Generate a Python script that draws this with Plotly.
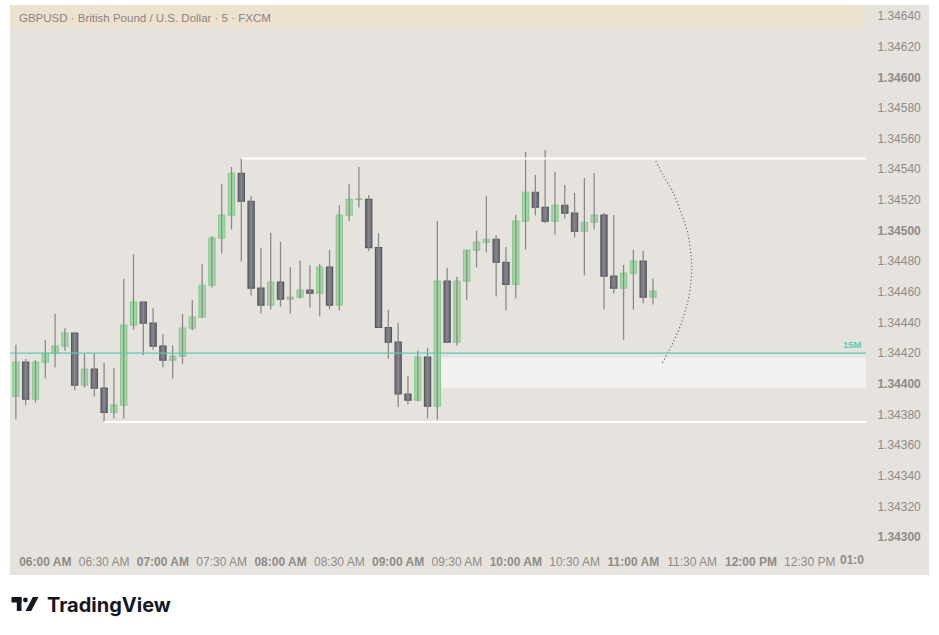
import plotly.graph_objects as go

DAY = "2024-01-15 "

times = ["05:45", "05:50", "05:55", "06:00", "06:05", "06:10", "06:15", "06:20", "06:25", "06:30",
         "06:35", "06:40", "06:45", "06:50", "06:55", "07:00", "07:05", "07:10", "07:15", "07:20",
         "07:25", "07:30", "07:35", "07:40", "07:45", "07:50", "07:55", "08:00", "08:05", "08:10",
         "08:15", "08:20", "08:25", "08:30", "08:35", "08:40", "08:45", "08:50", "08:55", "09:00",
         "09:05", "09:10", "09:15", "09:20", "09:25", "09:30", "09:35", "09:40", "09:45", "09:50",
         "09:55", "10:00", "10:05", "10:10", "10:15", "10:20", "10:25", "10:30", "10:35", "10:40",
         "10:45", "10:50", "10:55", "11:00", "11:05", "11:10"]

opens = [1.343917, 1.344141, 1.343900, 1.344141, 1.344200, 1.344246, 1.344330, 1.343991, 1.344096, 1.343972,
         1.343813, 1.343861, 1.344383, 1.344533, 1.344396, 1.344246, 1.344154, 1.344180, 1.344363, 1.344435,
         1.344643, 1.344950, 1.345100, 1.345374, 1.345191, 1.344624, 1.344513, 1.344663, 1.344552, 1.344565,
         1.344611, 1.344591, 1.344761, 1.344513, 1.345100, 1.345203, 1.345204, 1.344889, 1.344367, 1.344272,
         1.343933, 1.343893, 1.344174, 1.343854, 1.344670, 1.344272, 1.344670, 1.344872, 1.344924, 1.344943,
         1.344793, 1.344648, 1.345061, 1.345250, 1.345152, 1.345061, 1.345165, 1.345113, 1.344996, 1.345054,
         1.345100, 1.344702, 1.344624, 1.344722, 1.344800, 1.344565]
highs = [1.344254, 1.344161, 1.344154, 1.344285, 1.344457, 1.344363, 1.344330, 1.344200, 1.344200, 1.344135,
         1.344102, 1.344683, 1.344846, 1.344533, 1.344493, 1.344324, 1.344252, 1.344454, 1.344546, 1.344780,
         1.344963, 1.345304, 1.345415, 1.345470, 1.345224, 1.344887, 1.344985, 1.344926, 1.344761, 1.344802,
         1.344774, 1.344783, 1.344874, 1.345167, 1.345304, 1.345415, 1.345230, 1.344983, 1.344483, 1.344398,
         1.344052, 1.344215, 1.344235, 1.345063, 1.344757, 1.344698, 1.344872, 1.344998, 1.345226, 1.344970,
         1.344893, 1.345102, 1.345513, 1.345363, 1.345526, 1.345383, 1.345298, 1.345246, 1.345343, 1.345376,
         1.345115, 1.345102, 1.344776, 1.344874, 1.344867, 1.344687]
lows = [1.343767, 1.343859, 1.343878, 1.344035, 1.344107, 1.344215, 1.343957, 1.343976, 1.343917, 1.343750,
        1.343774, 1.343774, 1.344352, 1.344187, 1.344222, 1.344107, 1.344035, 1.344128, 1.344350, 1.344430,
        1.344628, 1.344850, 1.345007, 1.344798, 1.344576, 1.344459, 1.344485, 1.344504, 1.344459, 1.344557,
        1.344498, 1.344439, 1.344485, 1.344478, 1.345063, 1.345150, 1.344867, 1.344367, 1.344163, 1.343846,
        1.343865, 1.343885, 1.343774, 1.343767, 1.344272, 1.344250, 1.344548, 1.344759, 1.344857, 1.344570,
        1.344478, 1.344557, 1.344876, 1.345098, 1.345048, 1.344974, 1.345078, 1.344954, 1.344707, 1.345007,
        1.344485, 1.344589, 1.344287, 1.344483, 1.344524, 1.344517]
closes = [1.344141, 1.343900, 1.344141, 1.344200, 1.344246, 1.344330, 1.343991, 1.344096, 1.343972, 1.343813,
          1.343861, 1.344383, 1.344533, 1.344396, 1.344246, 1.344154, 1.344180, 1.344363, 1.344435, 1.344643,
          1.344950, 1.345100, 1.345374, 1.345191, 1.344624, 1.344513, 1.344663, 1.344552, 1.344565, 1.344611,
          1.344591, 1.344761, 1.344513, 1.345100, 1.345204, 1.345206, 1.344889, 1.344367, 1.344272, 1.343933,
          1.343893, 1.344174, 1.343854, 1.344670, 1.344272, 1.344670, 1.344872, 1.344924, 1.344943, 1.344793,
          1.344648, 1.345061, 1.345250, 1.345152, 1.345061, 1.345165, 1.345113, 1.344996, 1.345054, 1.345100,
          1.344702, 1.344624, 1.344722, 1.344800, 1.344565, 1.344604]

# drawing tools
level_15m = 1.34420
zone_low = 1.34397
zone_high = 1.34417
zone_start_idx = 43
range_high_idx = 23
range_low_idx = 9

arc_times = ["11:11:24", "11:15:06", "11:20:12", "11:24:30", "11:27:54", "11:29:24", "11:29:48",
             "11:29:18", "11:28:06", "11:26:12", "11:23:42", "11:20:12", "11:17:42", "11:14:36"]
arc_prices = [1.345453, 1.345363, 1.345249, 1.345112, 1.344971, 1.344836, 1.344749,
              1.344662, 1.344554, 1.344466, 1.344368, 1.344270, 1.344205, 1.344133]

x_ticks = ["06:00", "06:30", "07:00", "07:30", "08:00", "08:30", "09:00", "09:30",
           "10:00", "10:30", "11:00", "11:30", "12:00", "12:30"]
x_tick_labels = ["06:00 AM", "06:30 AM", "07:00 AM", "07:30 AM", "08:00 AM", "08:30 AM", "09:00 AM",
                 "09:30 AM", "10:00 AM", "10:30 AM", "11:00 AM", "11:30 AM", "12:00 PM", "12:30 PM"]
y_ticks = [1.34300, 1.34320, 1.34340, 1.34360, 1.34380, 1.34400, 1.34420, 1.34440, 1.34460,
           1.34480, 1.34500, 1.34520, 1.34540, 1.34560, 1.34580, 1.34600, 1.34620, 1.34640]
y_bold = [1.34300, 1.34400, 1.34500, 1.34600]

title_text = "GBPUSD · British Pound / U.S. Dollar · 5 · FXCM"
x_range = ["05:42:00", "12:58:40"]
y_range = [1.342928, 1.346472]

# ---------------- styles ----------------
PANEL = "#e6e3df"
HEADER = "#ede1d0"
TICK = "#8f8b87"
GREEN_FILL = "#a5d6a7"
GREEN_LINE = "#8ccb93"
DARK_FILL = "#757680"
DARK_LINE = "#56575f"
WICK = "#8c8a88"
TEAL = "#5cc8b8"

W, H = 939, 635
L, R, T, B = 10, 866, 5, 548


def px(x):
    return (x - L) / (R - L)


def py(y):
    return (B - y) / (B - T)


tx = [DAY + t for t in times]

wx, wy = [], []
for t, lo, hi in zip(tx, lows, highs):
    wx += [t, t, None]
    wy += [lo, hi, None]

up = [c >= o for o, c in zip(opens, closes)]
bases = [min(o, c) for o, c in zip(opens, closes)]
heights = [abs(c - o) for o, c in zip(opens, closes)]

fig = go.Figure()
fig.add_trace(go.Scatter(x=wx, y=wy, mode="lines", line=dict(color=WICK, width=1.3),
                         hoverinfo="skip", showlegend=False))
fig.add_trace(go.Bar(x=tx, y=heights, base=bases, width=190000,
                     marker=dict(color=[GREEN_FILL if u else DARK_FILL for u in up],
                                 line=dict(color=[GREEN_LINE if u else DARK_LINE for u in up], width=1.2)),
                     hoverinfo="skip", showlegend=False))
fig.add_trace(go.Scatter(x=[DAY + t for t in arc_times], y=arc_prices, mode="lines",
                         line=dict(color="#4a4a4a", width=1.1, dash="1px,2.5px", shape="spline"),
                         hoverinfo="skip", showlegend=False))

shapes = []
# panel background
shapes.append(dict(type="rect", xref="paper", yref="paper", x0=px(10), x1=px(929), y0=py(575), y1=py(5),
                   fillcolor=PANEL, line=dict(width=0), layer="below"))
# header band
shapes.append(dict(type="rect", xref="paper", yref="paper", x0=0, x1=1, y0=py(27), y1=1,
                   fillcolor=HEADER, line=dict(width=0), layer="above"))
# zone
shapes.append(dict(type="rect", xref="x", yref="y", x0=tx[zone_start_idx], x1=DAY + x_range[1],
                   y0=zone_low, y1=zone_high, fillcolor="#f2f1ef", line=dict(width=0), layer="below"))
# range lines
shapes.append(dict(type="line", xref="x", yref="y", x0=tx[range_high_idx], x1=DAY + x_range[1],
                   y0=highs[range_high_idx], y1=highs[range_high_idx],
                   line=dict(color="#ffffff", width=2), layer="above"))
shapes.append(dict(type="line", xref="x", yref="y", x0=tx[range_low_idx], x1=DAY + x_range[1],
                   y0=lows[range_low_idx], y1=lows[range_low_idx],
                   line=dict(color="#ffffff", width=2), layer="above"))
# 15M level
shapes.append(dict(type="line", xref="paper", yref="y", x0=0, x1=1, y0=level_15m, y1=level_15m,
                   line=dict(color=TEAL, width=1.3), layer="above"))

# TradingView logo
K = "#131722"
shapes.append(dict(type="rect", xref="paper", yref="paper", x0=px(11.5), x1=px(21.5), y0=py(602.5), y1=py(597),
                   fillcolor=K, line=dict(width=0)))
shapes.append(dict(type="rect", xref="paper", yref="paper", x0=px(16.8), x1=px(21.5), y0=py(611), y1=py(597),
                   fillcolor=K, line=dict(width=0)))
shapes.append(dict(type="circle", xref="paper", yref="paper", x0=px(23), x1=px(27.8), y0=py(602.4), y1=py(597.6),
                   fillcolor=K, line=dict(width=0)))
shapes.append(dict(type="path", xref="paper", yref="paper",
                   path=f"M {px(25.5)},{py(611)} L {px(31.2)},{py(611)} L {px(38.5)},{py(597)} L {px(32.8)},{py(597)} Z",
                   fillcolor=K, line=dict(width=0)))

annotations = [
    dict(text=title_text, xref="paper", yref="paper", x=px(17), y=py(18.5), xanchor="left", yanchor="middle",
         showarrow=False, font=dict(family="Liberation Sans", size=11.5, color="#8a857f")),
    dict(text="<b>15M</b>", xref="paper", yref="y", x=px(864), y=level_15m, xanchor="right", yanchor="bottom",
         yshift=1, showarrow=False, font=dict(family="Liberation Sans", size=9.5, color=TEAL)),
    dict(text="<b>01:0</b>", xref="paper", yref="paper", x=1, y=py(560), xanchor="right", yanchor="middle",
         showarrow=False, font=dict(family="Liberation Sans", size=12, color=TICK)),
    dict(text="<b>TradingView</b>", xref="paper", yref="paper", x=px(45), y=py(604.5), xanchor="left",
         yanchor="middle", showarrow=False, font=dict(family="Inter", size=20, color=K)),
]

x_text = [f"<b>{lab}</b>" if t.endswith(":00") else lab for t, lab in zip(x_ticks, x_tick_labels)]
y_text = [f"<b>{v:.5f}</b>" if any(abs(v - b) < 1e-9 for b in y_bold) else f"{v:.5f}" for v in y_ticks]

fig.update_layout(
    width=W, height=H,
    margin=dict(l=L, r=W - R, t=T, b=H - B, pad=0),
    paper_bgcolor="#ffffff",
    plot_bgcolor=PANEL,
    shapes=shapes,
    annotations=annotations,
    bargap=0,
    showlegend=False,
    hovermode=False,
    font=dict(family="Liberation Sans", size=12, color=TICK),
    xaxis=dict(type="date", range=[DAY + x_range[0], DAY + x_range[1]], showgrid=False, zeroline=False,
               showline=False, tickvals=[DAY + t for t in x_ticks], ticktext=x_text,
               ticks="outside", ticklen=3, tickcolor="rgba(0,0,0,0)",
               tickfont=dict(family="Liberation Sans", size=12, color=TICK), fixedrange=True),
    yaxis=dict(side="right", range=y_range, showgrid=False, zeroline=False, showline=False,
               tickvals=y_ticks, ticktext=y_text, ticks="outside", ticklen=8, tickcolor="rgba(0,0,0,0)",
               tickfont=dict(family="Liberation Sans", size=12, color=TICK), fixedrange=True),
)

fig.write_html("out.html", config={"displayModeBar": False, "staticPlot": True},
               post_script="document.body.style.margin='0';document.body.style.overflow='hidden';")
